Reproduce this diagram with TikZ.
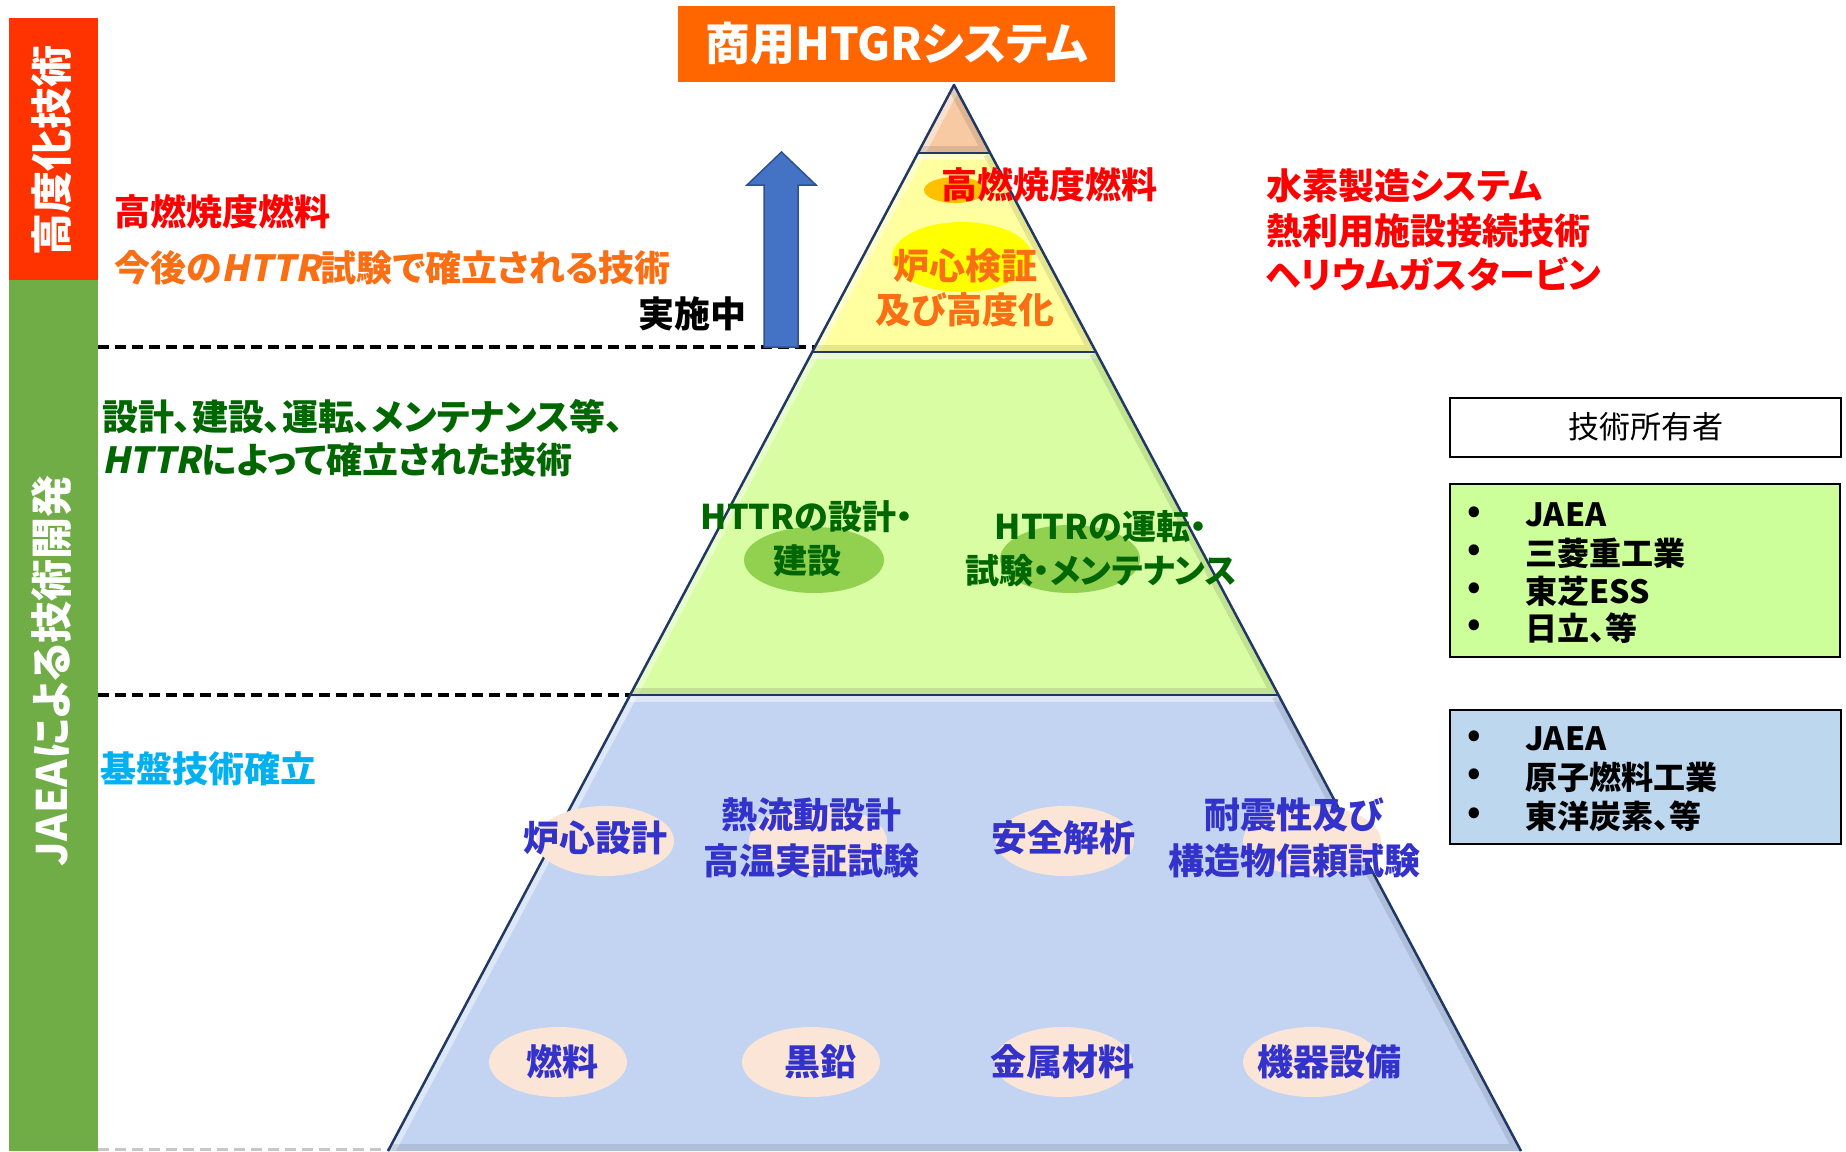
\documentclass[tikz,border=0pt]{standalone}
\usepackage{fontspec}
\setmainfont{Noto Sans CJK JP}[RawFeature={+palt}]
\newfontfamily\jpsl{Noto Sans CJK JP}[FakeSlant=0.2,RawFeature={+palt}]
\definecolor{barred}{RGB}{255,51,0}
\definecolor{bargreen}{RGB}{112,173,71}
\definecolor{titleor}{RGB}{255,102,0}
\definecolor{tipfill}{RGB}{247,202,164}
\definecolor{yelfill}{RGB}{255,255,160}
\definecolor{grnfill}{RGB}{216,253,162}
\definecolor{blufill}{RGB}{194,212,242}
\definecolor{edgec}{RGB}{31,56,100}
\definecolor{txtred}{RGB}{255,0,0}
\definecolor{txtor}{RGB}{250,110,20}
\definecolor{txtgreen}{RGB}{0,102,0}
\definecolor{txtcyan}{RGB}{0,176,240}
\definecolor{txtblue}{RGB}{51,51,204}
\definecolor{ellor}{RGB}{255,192,0}
\definecolor{ellyel}{RGB}{255,255,0}
\definecolor{ellgrn}{RGB}{146,208,80}
\definecolor{ellpeach}{RGB}{251,229,214}
\definecolor{boxgreen}{RGB}{204,255,153}
\definecolor{boxblue}{RGB}{189,215,238}
\definecolor{arrowblue}{RGB}{68,114,196}
\definecolor{arrowedge}{RGB}{47,82,143}
\newcommand{\fs}[2]{\fontsize{#1}{#2}\selectfont}
\newcommand{\httr}{{\jpsl\bfseries HTTR}}
\tikzset{
  txt/.style={inner sep=0pt, outer sep=0pt, font=\bfseries\fs{36}{44}},
  sidetxt/.style={inner sep=0pt, text=white, rotate=90, font=\bfseries\fs{42}{48}},
  dline/.style={line width=3.5pt, dash pattern=on 11pt off 6pt},
  bevl/.style={white, opacity=0.45, line width=14pt},
  bevd/.style={black, opacity=0.10, line width=14pt},
  pedge/.style={edgec, line width=2.5pt, line join=round},
  listtxt/.style={inner sep=0pt, anchor=west, font=\bfseries\fs{32}{38}},
  bul/.style={inner sep=0pt, font=\bfseries\fs{34}{38}},
}
\begin{document}
\begin{tikzpicture}[x=1pt,y=-1pt]
\useasboundingbox (0,0) rectangle (1846,1151);
\fill[white] (0,0) rectangle (1846,1151);

% side bars
\fill[barred] (9,18) rectangle (98,280);
\fill[bargreen] (9,280) rectangle (98,1151);
\node[sidetxt] (side1) at (52,150) {高度化技術};
\node[sidetxt] (side2) at (52,671) {JAEAによる技術開発};

% dashed lines
\draw[dline] (98,347) -- (815,347);
\draw[dline] (98,695) -- (630,695);
\draw[dline, black!22, line width=3pt] (98,1149) -- (388,1149);

% pyramid layers
\coordinate (A) at (954,85);
\coordinate (T1) at (917.9,153); \coordinate (T2) at (990.2,153);
\coordinate (Y1) at (812.2,352); \coordinate (Y2) at (1096,352);
\coordinate (G1) at (630.1,695); \coordinate (G2) at (1278.5,695);
\coordinate (B1) at (388,1151); \coordinate (B2) at (1521,1151);

\begin{scope}
\clip (A) -- (T2) -- (T1) -- cycle;
\fill[tipfill] (A) -- (T2) -- (T1) -- cycle;
\draw[bevl] (A) -- (T1);
\draw[bevd] (T1) -- (T2) -- (A);
\end{scope}
\begin{scope}
\clip (T1) -- (T2) -- (Y2) -- (Y1) -- cycle;
\fill[yelfill] (T1) -- (T2) -- (Y2) -- (Y1) -- cycle;
\draw[bevl] (T1) -- (Y1);
\draw[bevl] (T1) -- (T2);
\draw[bevd] (Y1) -- (Y2) -- (T2);
\end{scope}
\begin{scope}
\clip (Y1) -- (Y2) -- (G2) -- (G1) -- cycle;
\fill[grnfill] (Y1) -- (Y2) -- (G2) -- (G1) -- cycle;
\draw[bevl] (Y1) -- (G1);
\draw[bevl] (Y1) -- (Y2);
\draw[bevd] (G1) -- (G2) -- (Y2);
\end{scope}
\begin{scope}
\clip (G1) -- (G2) -- (B2) -- (B1) -- cycle;
\fill[blufill] (G1) -- (G2) -- (B2) -- (B1) -- cycle;
\draw[bevl] (G1) -- (B1);
\draw[bevl] (G1) -- (G2);
\draw[bevd] (B1) -- (B2) -- (G2);
\end{scope}
\draw[pedge] (B1) -- (A) -- (B2);
\draw[edgec, line width=1.5pt] (T1) -- (T2);
\draw[edgec, line width=1.5pt] (Y1) -- (Y2);
\draw[edgec, line width=1.5pt] (G1) -- (G2);

% ellipses inside pyramid
\fill[ellor] (955,190) ellipse [x radius=31, y radius=13];
\fill[ellyel] (962,257) ellipse [x radius=70, y radius=35];
\fill[ellgrn] (814,560) ellipse [x radius=70, y radius=33];
\fill[ellgrn] (1070,559) ellipse [x radius=70, y radius=34];
\foreach \ex in {605,818,1065,1312} {\fill[ellpeach] (\ex,841) ellipse [x radius=69, y radius=35];}
\foreach \ex in {558,811,1063,1312} {\fill[ellpeach] (\ex,1062) ellipse [x radius=69, y radius=35];}

% title
\node[fill=titleor, minimum width=437pt, minimum height=76pt, inner sep=0pt,
      text=white, font=\bfseries\fs{45}{50}] (title) at (896.5,44) {商用HTGRシステム};

% arrow
\draw[fill=arrowblue, draw=arrowedge, line width=1.5pt, line join=miter]
  (764,347) -- (764,185) -- (747,185) -- (781.5,152) -- (816,185) -- (798,185) -- (798,347) -- cycle;

% left texts
\node[txt, text=txtred, anchor=west] (l1) at (114,212) {高燃焼度燃料};
\node[txt, text=txtor, anchor=west] (l2) at (114,268) {今後の\httr 試験で確立される技術};
\node[txt, text=black] (l3) at (692,314) {実施中};
\node[txt, text=txtgreen, anchor=west, align=left, font=\bfseries\fs{36}{43}] (l4) at (102,438)
  {設計、建設、運転、メンテナンス等、\\\httr によって確立された技術};
\node[txt, text=txtcyan, anchor=west] (l5) at (100,769) {基盤技術確立};

% right texts
\node[txt, text=txtred, anchor=west, align=left, font=\bfseries\fs{36}{44.5}] (r1) at (1266,230)
  {水素製造システム\\熱利用施設接続技術\\ヘリウムガスタービン};

% pyramid texts
\node[txt, text=txtred] (p1) at (1049,185) {高燃焼度燃料};
\node[txt, text=txtor, align=center] (p2) at (965,288) {炉心検証\\及び高度化};
\node[txt, text=txtgreen, align=center, font=\bfseries\fs{34}{44}] (p3) at (807,539) {HTTRの設計・\\建設};
\node[txt, text=txtgreen, align=center, font=\bfseries\fs{34}{44}] (p4) at (1101,549) {HTTRの運転・\\試験・メンテナンス};
\node[txt, text=txtblue] (b1) at (595,838) {炉心設計};
\node[txt, text=txtblue, align=center, font=\bfseries\fs{36}{46}] (b2) at (811,838) {熱流動設計\\高温実証試験};
\node[txt, text=txtblue] (b3) at (1063,838) {安全解析};
\node[txt, text=txtblue, align=center, font=\bfseries\fs{36}{46}] (b4) at (1294,838) {耐震性及び\\構造物信頼試験};
\node[txt, text=txtblue] (b5) at (562,1062) {燃料};
\node[txt, text=txtblue] (b6) at (820,1062) {黒鉛};
\node[txt, text=txtblue] (b7) at (1062,1062) {金属材料};
\node[txt, text=txtblue] (b8) at (1329,1062) {機器設備};

% owner boxes
\draw[black, line width=2pt, fill=white] (1450,398) rectangle (1841,457);
\node[inner sep=0pt, font=\fs{31}{36}] (own) at (1646,427) {技術所有者};
\draw[black, line width=2pt, fill=boxgreen] (1450,484) rectangle (1840,657);
\foreach \yy/\tt [count=\i] in {515/JAEA,553/三菱重工業,591/東芝ESS,628/日立、等} {
  \node[bul] (gb\i) at (1474,\yy) {•};
  \node[listtxt] (gt\i) at (1525,\yy) {\tt};
}
\draw[black, line width=2pt, fill=boxblue] (1450,710) rectangle (1841,844);
\foreach \yy/\tt [count=\i] in {739/JAEA,777/原子燃料工業,816/東洋炭素、等} {
  \node[bul] (bb\i) at (1474,\yy) {•};
  \node[listtxt] (bt\i) at (1525,\yy) {\tt};
}
\end{tikzpicture}
\end{document}
